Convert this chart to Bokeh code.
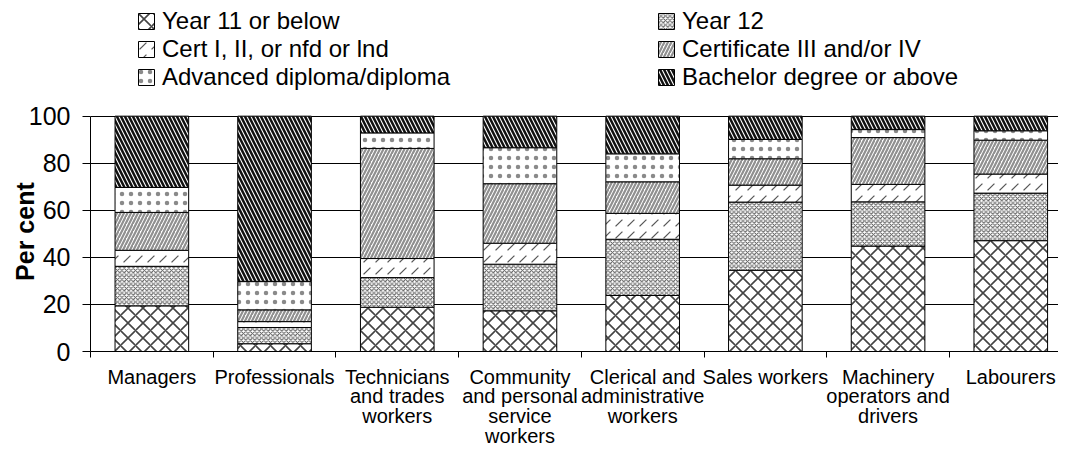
from bokeh.plotting import figure
from bokeh.models import (Range1d, FixedTicker, Legend, LegendItem, ColumnDataSource)
from bokeh.embed import file_html
from bokeh.resources import INLINE

categories = ["Managers", "Professionals", "Technicians\nand trades\nworkers",
              "Community\nand personal\nservice\nworkers", "Clerical and\nadministrative\nworkers",
              "Sales workers", "Machinery\noperators and\ndrivers", "Labourers"]
series_names = ["Year 11 or below", "Year 12", "Cert I, II, or nfd or lnd",
                "Certificate III and/or IV", "Advanced diploma/diploma", "Bachelor degree or above"]

year11 = [19.4, 3.3, 18.8, 17.3, 23.8, 34.5, 44.8, 47.1]
year12 = [16.8, 6.9, 12.6, 19.8, 23.9, 29.0, 18.8, 20.2]
cert1 = [6.8, 2.5, 8.1, 8.9, 11.0, 7.2, 7.4, 8.1]
cert34 = [16.1, 5.0, 46.8, 25.3, 13.4, 11.2, 19.9, 14.4]
adv_dip = [10.6, 12.0, 6.6, 15.3, 11.9, 8.2, 3.4, 4.0]
bachelor = [30.3, 70.3, 7.1, 13.4, 16.0, 9.9, 5.7, 6.2]

y_ticks = [0, 20, 40, 60, 80, 100]

keys = ["y11", "y12", "c1", "c34", "adv", "bach"]
xpos = [i + 0.5 for i in range(len(categories))]
source = ColumnDataSource(dict(x=xpos, y11=year11, y12=year12, c1=cert1, c34=cert34,
                               adv=adv_dip, bach=bachelor))

FONT = "Liberation Sans"
# frame spans the legend area too: value 100 sits 236 px above the base, frame is 352 px tall
p = figure(width=1058, height=449, output_backend="svg", toolbar_location=None,
           x_range=Range1d(0, 7.889), y_range=Range1d(0, 100 * 352 / 236),
           min_border_left=90, min_border_top=0, min_border_bottom=97, min_border_right=0)
p.outline_line_color = None
p.background_fill_color = "white"

renderers = p.vbar_stack(keys, x="x", width=0.6, source=source,
                         fill_color="white", line_color="black", line_width=1,
                         hatch_pattern=["x", "x", ",", "/", ".", "\\"],
                         hatch_scale=[15, 4.5, 12, 7, 9, 8],
                         hatch_weight=[1.6, 1, 1.2, 2.2, 0.5, 2.5],
                         hatch_color=["#444444", "#555555", "#555555", "#909090", "#8a8a8a", "#111111"])

# axes
xa = p.xaxis[0]
xa.ticker = FixedTicker(ticks=xpos, minor_ticks=list(range(len(categories) + 1)))
xa.major_label_overrides = {x: c for x, c in zip(xpos, categories)}
xa.major_tick_out = 0
xa.major_tick_in = 0
xa.minor_tick_out = 6
xa.minor_tick_in = 0
xa.minor_tick_line_color = "black"
xa.axis_line_color = "black"
xa.major_label_text_font = FONT
xa.major_label_text_font_size = "20px"
xa.major_label_text_color = "black"
xa.major_label_standoff = 8
xa.major_label_text_line_height = 0.9

ya = p.yaxis[0]
ya.ticker = FixedTicker(ticks=y_ticks)
ya.bounds = (0, 100)
ya.major_tick_out = 8
ya.major_tick_in = 0
ya.minor_tick_line_color = None
ya.axis_line_color = "black"
ya.major_tick_line_color = "black"
ya.major_label_text_font = FONT
ya.major_label_text_font_size = "25px"
ya.major_label_text_color = "black"
ya.major_label_standoff = 12
# trailing no-break spaces move the centred title down to the middle of the 0-100 band
ya.axis_label = "Per cent" + "\u00a0" * 16
ya.axis_label_text_font = FONT
ya.axis_label_text_font_size = "25px"
ya.axis_label_text_font_style = "bold"
ya.axis_label_text_color = "black"
ya.axis_label_standoff = -13

p.xgrid.grid_line_color = None
p.ygrid.ticker = FixedTicker(ticks=y_ticks)
p.ygrid.grid_line_color = "black"
p.ygrid.grid_line_width = 1

order = [0, 2, 4, 1, 3, 5]
legend = Legend(items=[LegendItem(label=series_names[i], renderers=[renderers[i]]) for i in order],
                location=(46, 260), orientation="vertical", ncols=2, nrows=3,
                glyph_width=20, glyph_height=20, label_standoff=6, label_width=494,
                spacing=-2, padding=0, margin=0, border_line_color=None,
                background_fill_alpha=0, label_text_font=FONT, label_text_font_size="24px",
                label_text_color="black")
p.add_layout(legend, "center")

open("out.html", "w").write(file_html(p, INLINE))
